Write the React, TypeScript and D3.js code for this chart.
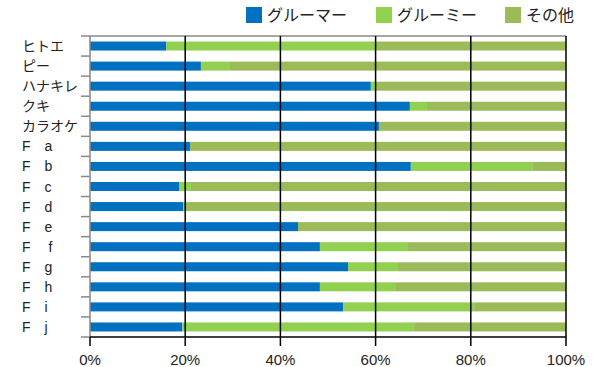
import React from "react";
import * as d3 from "d3";

const categories = ["ヒトエ", "ピー", "ハナキレ", "クキ", "カラオケ", "F　a", "F　b", "F　c", "F　d", "F　e", "F　 f", "F　g", "F　h", "F　i", "F　j"];
const groomer = [16.0, 23.3, 59.0, 67.2, 60.7, 21.0, 67.4, 18.7, 19.6, 43.7, 48.3, 54.2, 48.3, 53.2, 19.4];
const groomy = [44.0, 6.1, 0.9, 3.6, 0, 0, 25.5, 2.5, 0, 0, 18.5, 10.5, 15.8, 27.5, 48.7];
const seriesNames = ["グルーマー", "グルーミー", "その他"];
const colors = ["#0070C0", "#92D050", "#9BBB59"];
const xTicks = [0, 20, 40, 60, 80, 100];

const W = 600, H = 367;
const L = 90, R = 566, T = 36, B = 337;
const font = "'Liberation Sans', Arial, 'Noto Sans CJK JP', sans-serif";

export default function App() {
  const x = d3.scaleLinear().domain([0, 100]).range([L, R]);
  const y = d3.scaleBand().domain(categories).range([T, B]);
  const rows = categories.map((c, i) => {
    const a = groomer[i], b = groomy[i];
    const vals = [a, b, 100 - a - b];
    let acc = 0;
    return vals.map((v, k) => { const s = acc; acc += v; return { c, k, s, e: acc }; });
  });
  const barH = 9;
  const legendX = [246, 376, 505];
  return (
    <svg width={W} height={H} style={{ position: "absolute", left: 0, top: 0 }} fontFamily={font}>
      <rect width={W} height={H} fill="#fff" />
      {seriesNames.map((n, i) => (
        <g key={n}>
          <rect x={legendX[i]} y={7} width={16} height={16} fill={colors[i]} />
          <text x={legendX[i] + 21} y={21} fontSize={16} fill="#222">{n}</text>
        </g>
      ))}
      <line x1={L} x2={R} y1={T} y2={T} stroke="#888" strokeWidth={1.5} />
      {rows.map((r) => r.map((seg) => seg.e - seg.s > 0 && (
        <rect key={seg.c + seg.k} x={x(seg.s)} width={x(seg.e) - x(seg.s)}
          y={(y(seg.c) as number) + y.bandwidth() / 2 - barH / 2} height={barH} fill={colors[seg.k]} />
      )))}
      {xTicks.filter(t => t > 0).map(t => (
        <line key={t} x1={x(t)} x2={x(t)} y1={T} y2={B + 9} stroke="#000" strokeWidth={1.5} />
      ))}
      <line x1={L} x2={L} y1={T} y2={B} stroke="#888" strokeWidth={1.5} />
      {d3.range(categories.length + 1).map(k => (
        <line key={k} x1={L - 9} x2={L} y1={T + k * y.step()} y2={T + k * y.step()} stroke="#888" strokeWidth={1.5} />
      ))}
      <line x1={L} x2={R} y1={B} y2={B} stroke="#000" strokeWidth={1.5} />
      <line x1={L} x2={L} y1={B} y2={B + 9} stroke="#000" strokeWidth={1.5} />
      {xTicks.map(t => (
        <text key={t} x={x(t)} y={365} fontSize={15} textAnchor="middle" fill="#222">{t}%</text>
      ))}
      {categories.map(c => (
        <text key={c} x={22} y={(y(c) as number) + y.bandwidth() / 2 + 5} fontSize={14} fill="#222">{c}</text>
      ))}
    </svg>
  );
}
